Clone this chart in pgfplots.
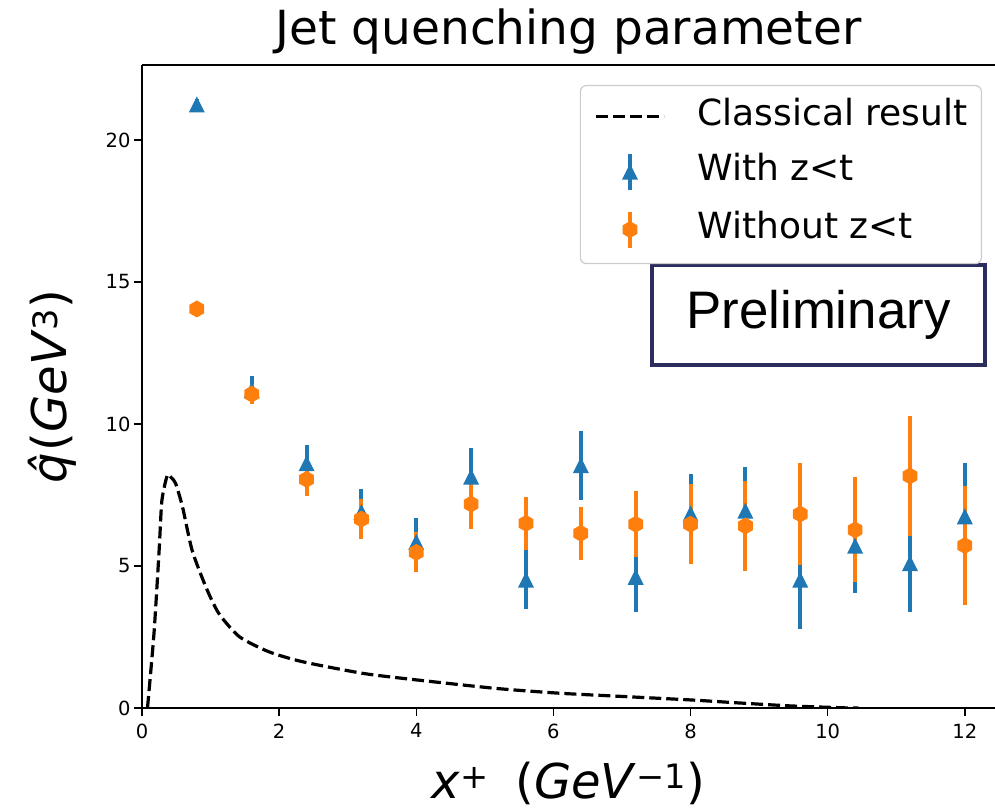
\documentclass[border=0pt]{standalone}
\usepackage{fontspec}
\setmainfont{DejaVu Sans}
\newfontfamily\arialfont{Liberation Sans}
\usepackage{pgfplots}
\usepackage{pgfplotstable}
\pgfplotsset{compat=1.18}

\definecolor{mplblue}{HTML}{1F77B4}
\definecolor{mplorange}{HTML}{FF7F0E}
\definecolor{legendgray}{HTML}{CCCCCC}
\definecolor{prelimnavy}{HTML}{2B2D5E}

% matplotlib-like markers: '^' triangle and 'h' hexagon
\pgfdeclareplotmark{mpltri}{%
  \pgfpathmoveto{\pgfqpoint{0pt}{\pgfplotmarksize}}%
  \pgfpathlineto{\pgfqpoint{-\pgfplotmarksize}{-\pgfplotmarksize}}%
  \pgfpathlineto{\pgfqpoint{\pgfplotmarksize}{-\pgfplotmarksize}}%
  \pgfpathclose\pgfusepathqfill}
\pgfdeclareplotmark{mplhex}{%
  \pgfpathmoveto{\pgfqpointpolar{90}{\pgfplotmarksize}}%
  \pgfpathlineto{\pgfqpointpolar{150}{\pgfplotmarksize}}%
  \pgfpathlineto{\pgfqpointpolar{210}{\pgfplotmarksize}}%
  \pgfpathlineto{\pgfqpointpolar{270}{\pgfplotmarksize}}%
  \pgfpathlineto{\pgfqpointpolar{330}{\pgfplotmarksize}}%
  \pgfpathlineto{\pgfqpointpolar{30}{\pgfplotmarksize}}%
  \pgfpathclose\pgfusepathqfill}

\pgfplotsset{
  dashleg/.style={legend image code/.code={\draw[##1] (0pt,0pt) -- (68pt,0pt);}},
  errleg/.style={legend image code/.code={%
    \draw[##1, line width=4pt] (34pt,-18pt) -- (34pt,18pt);
    \draw[mark repeat=2, mark phase=2, ##1] plot coordinates {(0pt,0pt)(34pt,0pt)(68pt,0pt)};}},
}

% With z<t
\pgfplotstableread{
x    y     e
0.8  21.25 0.20
1.6  11.20 0.50
2.4  8.62  0.65
3.2  6.90  0.80
4.0  5.85  0.85
4.8  8.15  1.00
5.6  4.52  1.04
6.4  8.55  1.22
7.2  4.62  1.23
8.0  6.85  1.40
8.8  6.95  1.55
9.6  4.52  1.75
10.4 5.72  1.67
11.2 5.10  1.72
12.0 6.75  1.87
}\withzt

% Without z<t
\pgfplotstableread{
x    y     e
0.8  14.05 0.12
1.6  11.05 0.35
2.4  8.05  0.58
3.2  6.65  0.70
4.0  5.48  0.70
4.8  7.18  0.86
5.6  6.50  0.94
6.4  6.15  0.93
7.2  6.47  1.17
8.0  6.47  1.40
8.8  6.41  1.60
9.6  6.83  1.79
10.4 6.27  1.85
11.2 8.17  2.10
12.0 5.72  2.09
}\withoutzt

\begin{document}
\begin{tikzpicture}
\begin{axis}[
  name=ax,
  scale only axis,
  width=853pt, height=643pt,
  xmin=0, xmax=12.44,
  ymin=0, ymax=22.64,
  axis x line=box, axis y line=left,
  axis line style={-, line width=1.5pt, black},
  xtick={0,2,...,12}, ytick={0,5,...,20},
  xtick pos=bottom, ytick pos=left,
  tick align=outside, major tick length=8pt,
  tick style={line width=1.5pt, black},
  /pgf/number format/assume math mode=true,
  ticklabel style={font=\fontsize{19.5}{23}\selectfont},
  xticklabel style={yshift=-4pt},
  title={Jet quenching parameter},
  title style={font=\fontsize{47}{56}\selectfont, at={(0.5,1)}, anchor=base, yshift=14pt},
  xlabel={\textit{x}\textsuperscript{+}\hspace{0.55em}(\textit{GeV}\textsuperscript{−1})},
  xlabel style={font=\fontsize{48}{56}\selectfont, at={(axis description cs:0.5,-0.14)}, anchor=base, inner sep=0pt},
  ylabel={\textit{\^{q}}(\textit{GeV}\textsuperscript{3})},
  ylabel style={font=\fontsize{48}{56}\selectfont, at={(axis description cs:-0.0762,0.5)}, anchor=south, inner sep=0pt},
  legend cell align=left,
  legend style={at={(0.9848,0.9689)}, anchor=north east,
    draw=legendgray, line width=1.2pt, rounded corners=6pt, fill=white,
    font=\fontsize{36}{43}\selectfont,
    inner xsep=14pt, inner ysep=14pt, row sep=18pt, column sep=32pt,
    nodes={inner sep=0pt, text height=26pt, text depth=8pt}},
]
% Classical result
\addplot[black, line width=3.2pt, dash pattern=on 12pt off 5pt, smooth, tension=0.4, dashleg]
  coordinates {
    (0.08,0) (0.175,2.63) (0.25,5.56) (0.29,7.3) (0.37,8.2) (0.43,8.1)
    (0.49,7.91) (0.59,7.09) (0.73,5.56) (0.93,4.27) (1.12,3.33) (1.42,2.51)
    (1.85,1.98) (2.34,1.63) (3.22,1.22) (4.0,0.99) (5.16,0.69) (6.09,0.52)
    (7.06,0.40) (8.03,0.28) (8.76,0.17) (9.49,0.07) (10.32,0.0) (10.45,0.0)
  };
\addlegendentry{Classical result}

% error bars first, markers on top (as matplotlib does)
\addplot[forget plot, only marks, mark=none,
  error bars/.cd, y dir=both, y explicit, error mark=none,
  error bar style={mplblue, line width=4pt}]
  table[x=x, y=y, y error=e] {\withzt};
\addplot[forget plot, only marks, mark=none,
  error bars/.cd, y dir=both, y explicit, error mark=none,
  error bar style={mplorange, line width=4pt}]
  table[x=x, y=y, y error=e] {\withoutzt};

\addplot[only marks, mark=mpltri, mark size=8pt, color=mplblue, errleg]
  table[x=x, y=y] {\withzt};
\addlegendentry{With z<t}

\addplot[only marks, mark=mplhex, mark size=8.5pt, color=mplorange, errleg]
  table[x=x, y=y] {\withoutzt};
\addlegendentry{Without z<t}

\node[draw=prelimnavy, line width=4.5pt, fill=white, minimum width=333pt,
  minimum height=100pt, inner sep=0pt,
  font=\arialfont\fontsize{52.8}{60}\selectfont]
  at (rel axis cs:0.793,0.611) {\raisebox{-4pt}{Preliminary}};
\end{axis}
\pgfresetboundingbox
\path[use as bounding box] ([shift={(-142pt,-102pt)}]ax.south west) rectangle ([shift={(0pt,65pt)}]ax.north east);
\end{tikzpicture}
\end{document}
